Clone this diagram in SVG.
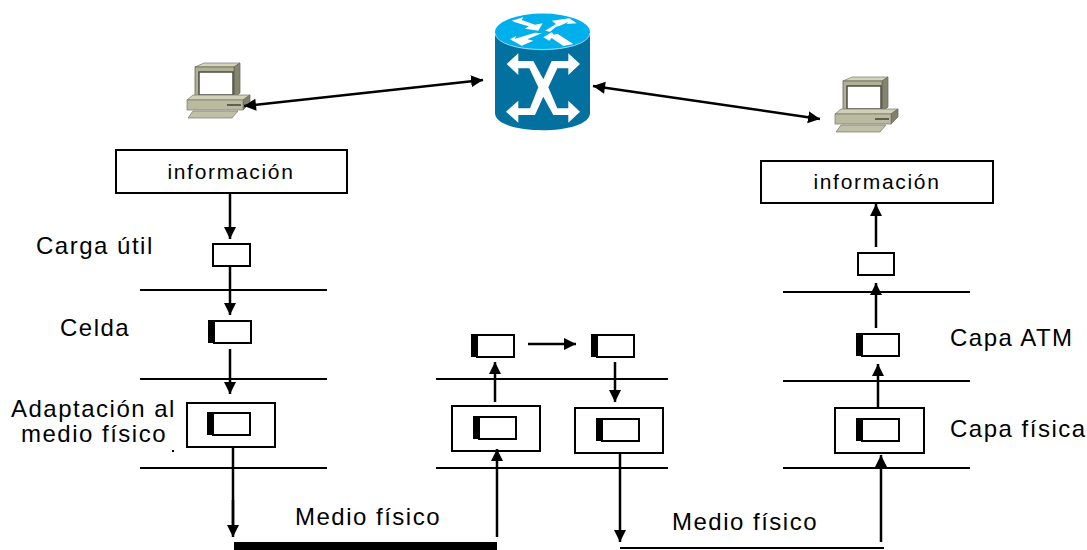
<svg xmlns="http://www.w3.org/2000/svg" width="1087" height="550" viewBox="0 0 1087 550">
<defs>
<marker id="ah" markerUnits="userSpaceOnUse" markerWidth="14" markerHeight="14" refX="12" refY="7" orient="auto"><path d="M0,1 L12,7 L0,13 Z" fill="#000"/></marker>
<marker id="as" markerUnits="userSpaceOnUse" markerWidth="14" markerHeight="14" refX="1" refY="7" orient="auto"><path d="M13,1 L1,7 L13,13 Z" fill="#000"/></marker>
<g id="pc">
<path d="M6,1 L15,-3 L51,-3 L45,1 Z" fill="#d4d4ba" stroke="#77776a" stroke-width=".7"/>
<path d="M45,1 L51,-3 L51,27 L45,32 Z" fill="#85856c" stroke="#66665a" stroke-width=".7"/>
<rect x="6" y="1" width="39" height="31" fill="#b0b096" stroke="#66665a" stroke-width=".8"/>
<rect x="10" y="6" width="34" height="23" fill="#fff" stroke="#4c4c40" stroke-width="1.500"/>
<path d="M-2,34 L4,29 L61,29 L54,34 Z" fill="#d0d0b6" stroke="#77776a" stroke-width=".7"/>
<path d="M54,34 L61,29 L61,37 L54,44 Z" fill="#82826a" stroke="#66665a" stroke-width=".7"/>
<rect x="-2" y="34" width="56" height="10" fill="#baba9f" stroke="#77776a" stroke-width=".7"/>
<line x1="38" y1="39" x2="52" y2="39" stroke="#222" stroke-width="1.200"/>
<path d="M4,45 L-1,52 L43,52 L49,45 Z" fill="#c0c0a6" stroke="#77776a" stroke-width=".7"/>
</g>
<g id="cell">
<rect x="-6" y="-1" width="7" height="23" fill="#000"/>
<rect x="0" y="0" width="37" height="22" fill="#fff" stroke="#000" stroke-width="2"/>
</g>
<style>
.t{font-family:"Liberation Sans",Arial,sans-serif;font-size:24px;letter-spacing:1.500px;fill:#000}
.s{font-size:21px;letter-spacing:1.700px}
.box{fill:#fff;stroke:#000;stroke-width:2}
.ln{stroke:#000;stroke-width:2;fill:none}
.c{stroke:#000;stroke-width:2.500;fill:none;marker-end:url(#ah)}
.p{stroke:#000;stroke-width:2.500;fill:none}
</style>
</defs>

<g id="router">
<path d="M495,32 V113 C495,136 590,136 590,113 V32 Z" fill="#03719f"/>
<ellipse cx="542.500" cy="32" rx="47.500" ry="18.500" fill="#00b0ec"/>
<path d="M495,33 C497,55 588,55 590,33" fill="none" stroke="#9fd8ee" stroke-width="1"/>
<g transform="translate(470,0) scale(.3333)" fill="#fff">
<path d="M125,62 L160,52 L155,60 L195,74 L218,70 L205,92 L165,86 L176,79 L140,68 Z"/>
<path d="M225,92 L258,72 L246,62 L298,55 L320,70 L290,72 L295,66 L268,78 L258,80 L240,95 Z"/>
<path d="M120,118 L138,108 L135,116 L195,98 L215,100 L172,118 L190,122 L155,137 Z"/>
<path d="M220,112 L245,97 L252,104 L262,101 L310,132 L280,138 L245,114 L238,122 Z"/>
<path d="M110,192 L145,160 V183 H190 L220,238 L245,183 H295 V160 L330,192 L295,225 V205 H262 L235,262 L262,325 H295 V302 L330,335 L295,368 V345 H250 L220,290 L195,345 H145 V368 L108,335 L145,302 V325 H180 L205,262 L178,205 H145 V225 Z"/>
</g>
</g>

<g id="pc-left"><use href="#pc" x="189" y="66"/></g>
<g id="pc-right"><use href="#pc" x="837" y="80"/></g>

<g id="info-left"><rect class="box" x="116" y="150" width="231" height="43"/><text class="t s" x="231" y="179" text-anchor="middle">información</text></g>
<g id="info-right"><rect class="box" x="761" y="161" width="232" height="42"/><text class="t s" x="877" y="189" text-anchor="middle">información</text></g>

<g id="payload-left"><rect class="box" x="213" y="244" width="37" height="22"/></g>
<g id="payload-right"><rect class="box" x="858" y="253" width="36" height="22"/></g>
<g id="cell-left"><use href="#cell" x="214" y="321"/></g>
<g id="cell-right"><use href="#cell" x="862" y="334"/></g>
<g id="cell-mid-a"><use href="#cell" x="477" y="335"/></g>
<g id="cell-mid-b"><use href="#cell" x="597" y="335"/></g>

<g id="phy-left"><rect class="box" x="187" y="403" width="88" height="44"/><use href="#cell" x="213" y="413"/></g>
<g id="phy-mid-a"><rect class="box" x="452" y="406" width="88" height="45"/><use href="#cell" x="479" y="417"/></g>
<g id="phy-mid-b"><rect class="box" x="575" y="408" width="88" height="45"/><use href="#cell" x="602" y="419"/></g>
<g id="phy-right"><rect class="box" x="835" y="408" width="89" height="45"/><use href="#cell" x="862" y="419"/></g>

<g id="layers">
<path class="ln" d="M140,290 H327 M140,379 H327 M140,468 H327"/>
<path class="ln" d="M436,379 H668 M436,468 H668"/>
<path class="ln" d="M783,292 H970 M783,381 H970 M783,468 H970"/>
</g>

<g id="connectors">
<path class="c" style="marker-start:url(#as)" d="M244,106 L483,80"/>
<path class="c" style="marker-start:url(#as)" d="M593,86 L820,119"/>
<path class="c" d="M230,194 V239"/>
<path class="c" d="M230,267 V315"/>
<path class="c" d="M230,349 V394"/>
<path class="p" d="M233,447 V525"/>
<path class="c" d="M233,500 V537"/>
<path class="c" d="M497,537 V449"/>
<path class="c" d="M495,402 V362"/>
<path class="c" d="M528,344 H576"/>
<path class="c" d="M615,362 V402"/>
<path class="p" d="M620,453 V500"/>
<path class="c" d="M620,500 V542"/>
<path class="c" d="M881,542 V455"/>
<path class="c" d="M878,408 V364"/>
<path class="c" d="M876,328 V283"/>
<path class="c" d="M876,247 V204"/>
</g>

<g id="media">
<rect x="234" y="542" width="263" height="8" fill="#000"/>
<line x1="620" y1="548" x2="884" y2="548" stroke="#000" stroke-width="2"/>
</g>

<g id="labels">
<text class="t" x="36" y="254">Carga útil</text>
<text class="t" x="60" y="336">Celda</text>
<text class="t" x="11" y="417">Adaptación al</text>
<text class="t" x="21" y="442">medio físico</text>
<text class="t" x="295" y="525">Medio físico</text>
<text class="t" x="672" y="530">Medio físico</text>
<text class="t" x="950" y="346">Capa ATM</text>
<text class="t" x="950" y="437">Capa física</text>
<rect x="172" y="450" width="2" height="2" fill="#000"/>
</g>
</svg>
